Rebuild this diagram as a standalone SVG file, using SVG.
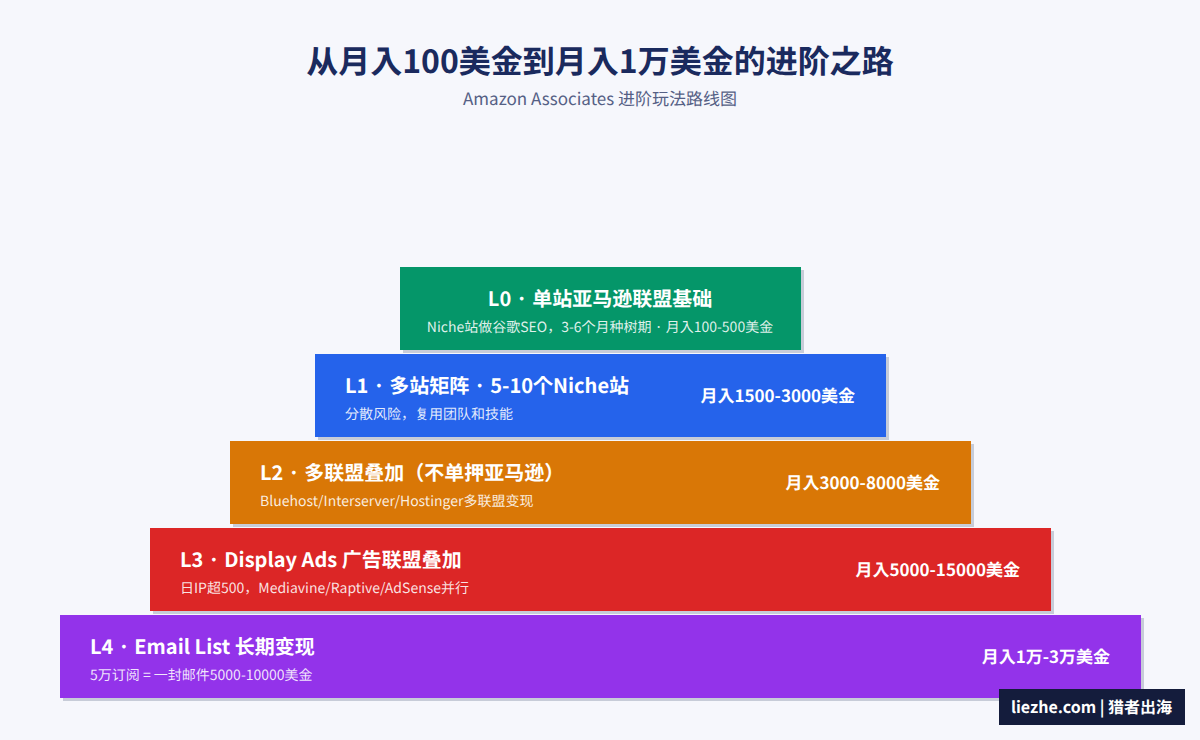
<svg xmlns="http://www.w3.org/2000/svg" width="1200" height="740" viewBox="0 0 1200 740">
<style>
text{font-family:"Noto Sans CJK JP","Noto Sans CJK SC","Noto Sans",sans-serif;text-rendering:geometricPrecision}
.s{fill:#c7ccd8}
.n{font-size:20px;font-weight:700;fill:#fff}
.d{font-size:14px;fill:#fff;fill-opacity:.88}
.r{font-size:17px;font-weight:700;fill:#fff;text-anchor:end}
</style>
<rect width="1200" height="740" fill="#f6f7fc"/>
<text x="600" y="73" text-anchor="middle" font-size="32" font-weight="700" fill="#1a2a5e">从月入100美金到月入1万美金的进阶之路</text>
<text x="600" y="105" text-anchor="middle" font-size="17" fill="#556085">Amazon Associates 进阶玩法路线图</text>
<g id="L0"><rect class="s" x="403" y="270" width="401" height="83"/><rect x="400" y="267" width="401" height="83" fill="#059669"/>
<text class="n" x="600" y="306" text-anchor="middle">L0 · 单站亚马逊联盟基础</text><text class="d" x="600" y="332" text-anchor="middle">Niche站做谷歌SEO，3-6个月种树期 · 月入100-500美金</text></g>
<g id="L1"><rect class="s" x="318" y="357" width="571" height="83"/><rect x="315" y="354" width="571" height="83" fill="#2563eb"/>
<text class="n" x="345" y="393">L1 · 多站矩阵 · 5-10个Niche站</text><text class="d" x="345" y="419">分散风险，复用团队和技能</text><text class="r" x="855" y="402">月入1500-3000美金</text></g>
<g id="L2"><rect class="s" x="233" y="444" width="741" height="83"/><rect x="230" y="441" width="741" height="83" fill="#d97706"/>
<text class="n" x="260" y="480">L2 · 多联盟叠加（不单押亚马逊）</text><text class="d" x="260" y="506">Bluehost/Interserver/Hostinger多联盟变现</text><text class="r" x="940" y="489">月入3000-8000美金</text></g>
<g id="L3"><rect class="s" x="153" y="531" width="901" height="83"/><rect x="150" y="528" width="901" height="83" fill="#dc2626"/>
<text class="n" x="180" y="567">L3 · Display Ads 广告联盟叠加</text><text class="d" x="180" y="593">日IP超500，Mediavine/Raptive/AdSense并行</text><text class="r" x="1020" y="576">月入5000-15000美金</text></g>
<g id="L4"><rect class="s" x="63" y="618" width="1081" height="83"/><rect x="60" y="615" width="1081" height="83" fill="#9333ea"/>
<text class="n" x="90" y="654">L4 · Email List 长期变现</text><text class="d" x="90" y="680">5万订阅 = 一封邮件5000-10000美金</text><text class="r" x="1110" y="663">月入1万-3万美金</text></g>
<g id="badge"><rect x="999" y="689" width="186" height="36" fill="#141c3c"/><text x="1091.5" y="713" text-anchor="middle" font-size="16" font-weight="700" fill="#fff">liezhe.com | 猎者出海</text></g>
</svg>
